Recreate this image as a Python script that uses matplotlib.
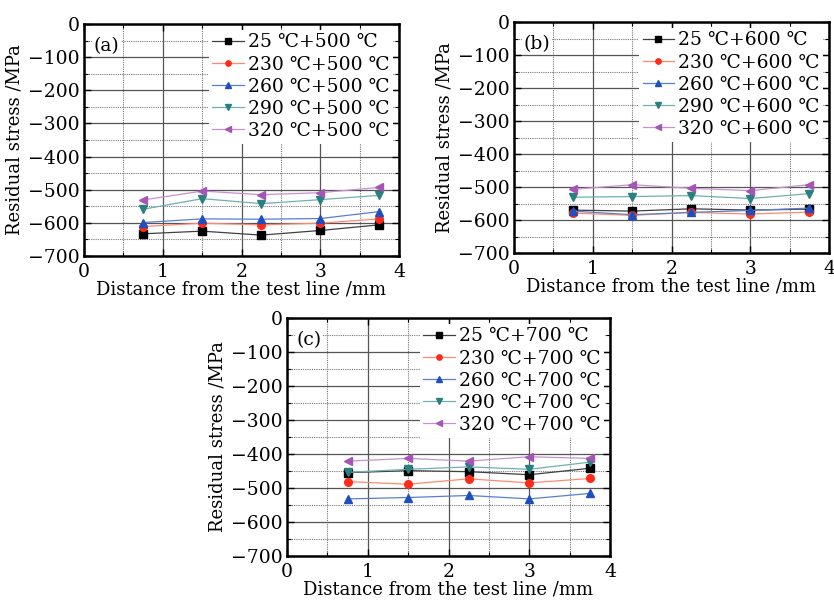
import matplotlib
matplotlib.use("Agg")
import matplotlib.pyplot as plt
from matplotlib.ticker import MultipleLocator

plt.rcParams['font.family'] = ['DejaVu Serif', 'DejaVu Sans']
plt.rcParams['mathtext.fontset'] = 'dejavuserif'

dist = [0.75, 1.5, 2.25, 3.0, 3.75]
pre_temps = ["25", "230", "260", "290", "320"]

# panel (a) +500 C
stress_500 = [
    [-633, -625, -637, -623, -606],
    [-611, -601, -606, -601, -588],
    [-599, -588, -589, -587, -566],
    [-559, -527, -542, -530, -517],
    [-531, -504, -515, -509, -493],
]
# panel (b) +600 C
stress_600 = [
    [-570, -573, -566, -570, -567],
    [-579, -586, -577, -582, -576],
    [-573, -584, -577, -571, -564],
    [-531, -529, -526, -535, -520],
    [-507, -493, -504, -511, -493],
]
# panel (c) +700 C
stress_700 = [
    [-455, -449, -452, -461, -442],
    [-481, -489, -473, -485, -472],
    [-532, -528, -522, -532, -516],
    [-454, -445, -438, -445, -424],
    [-421, -413, -421, -408, -413],
]

colors = ["#000000", "#ff2a1a", "#1f4fbf", "#2a8080", "#a555b5"]
line_colors = ["#404040", "#ff8a70", "#5a7fd0", "#70b0b0", "#c890d0"]
markers = ["s", "o", "^", "v", "<"]

W, H = 834, 600
fig = plt.figure(figsize=(W / 100, H / 100), dpi=100)

def px_axes(left, right, top, bottom):
    return fig.add_axes([left / W, 1 - bottom / H, (right - left) / W, (bottom - top) / H])

def draw(ax, data, final, tag):
    for i, vals in enumerate(data):
        ax.plot(dist, vals, color=line_colors[i], lw=0.9, marker=markers[i],
                ms=5.5, mfc=colors[i], mec=colors[i],
                label="%s ℃+%s ℃" % (pre_temps[i], final))
    ax.set_xlim(0, 4)
    ax.set_ylim(-700, 0)
    ax.xaxis.set_major_locator(MultipleLocator(1))
    ax.xaxis.set_minor_locator(MultipleLocator(0.5))
    ax.yaxis.set_major_locator(MultipleLocator(100))
    ax.yaxis.set_minor_locator(MultipleLocator(50))
    ax.grid(which="major", color="#555555", lw=0.9, ls="-")
    ax.grid(which="minor", color="#777777", lw=0.8, ls=(0, (1, 1)))
    ax.set_axisbelow(True)
    ax.tick_params(which="both", direction="in", top=True, right=True, labelsize=13.5)
    ax.tick_params(axis="x", pad=5)
    ax.tick_params(axis="y", pad=3)
    ax.tick_params(which="major", length=5, width=1)
    ax.tick_params(which="minor", length=3, width=0.8)
    for s in ax.spines.values():
        s.set_linewidth(1.8)
    ax.set_xlabel("Distance from the test line /mm", fontsize=13, labelpad=0)
    ax.set_ylabel("Residual stress /MPa", fontsize=13, labelpad=3)
    ax.text(0.03, 0.945, "(%s)" % tag, transform=ax.transAxes, fontsize=13.5,
            va="top", ha="left",
            bbox=dict(facecolor="white", edgecolor="none", pad=1))
    leg = ax.legend(loc="upper right", fontsize=13.5, frameon=True, fancybox=False,
                    handlelength=1.7, handletextpad=0.2, labelspacing=0.22,
                    borderpad=0.2, borderaxespad=0.3, markerscale=0.7)
    leg.get_frame().set_edgecolor("none")
    leg.get_frame().set_facecolor("white")
    leg.get_frame().set_alpha(1)

ax_a = px_axes(84, 399, 24, 256)
draw(ax_a, stress_500, "500", "a")
ax_b = px_axes(514, 829, 22, 253)
draw(ax_b, stress_600, "600", "b")
ax_c = px_axes(287, 610, 318, 556)
draw(ax_c, stress_700, "700", "c")

fig.savefig("out.png", dpi=100)
